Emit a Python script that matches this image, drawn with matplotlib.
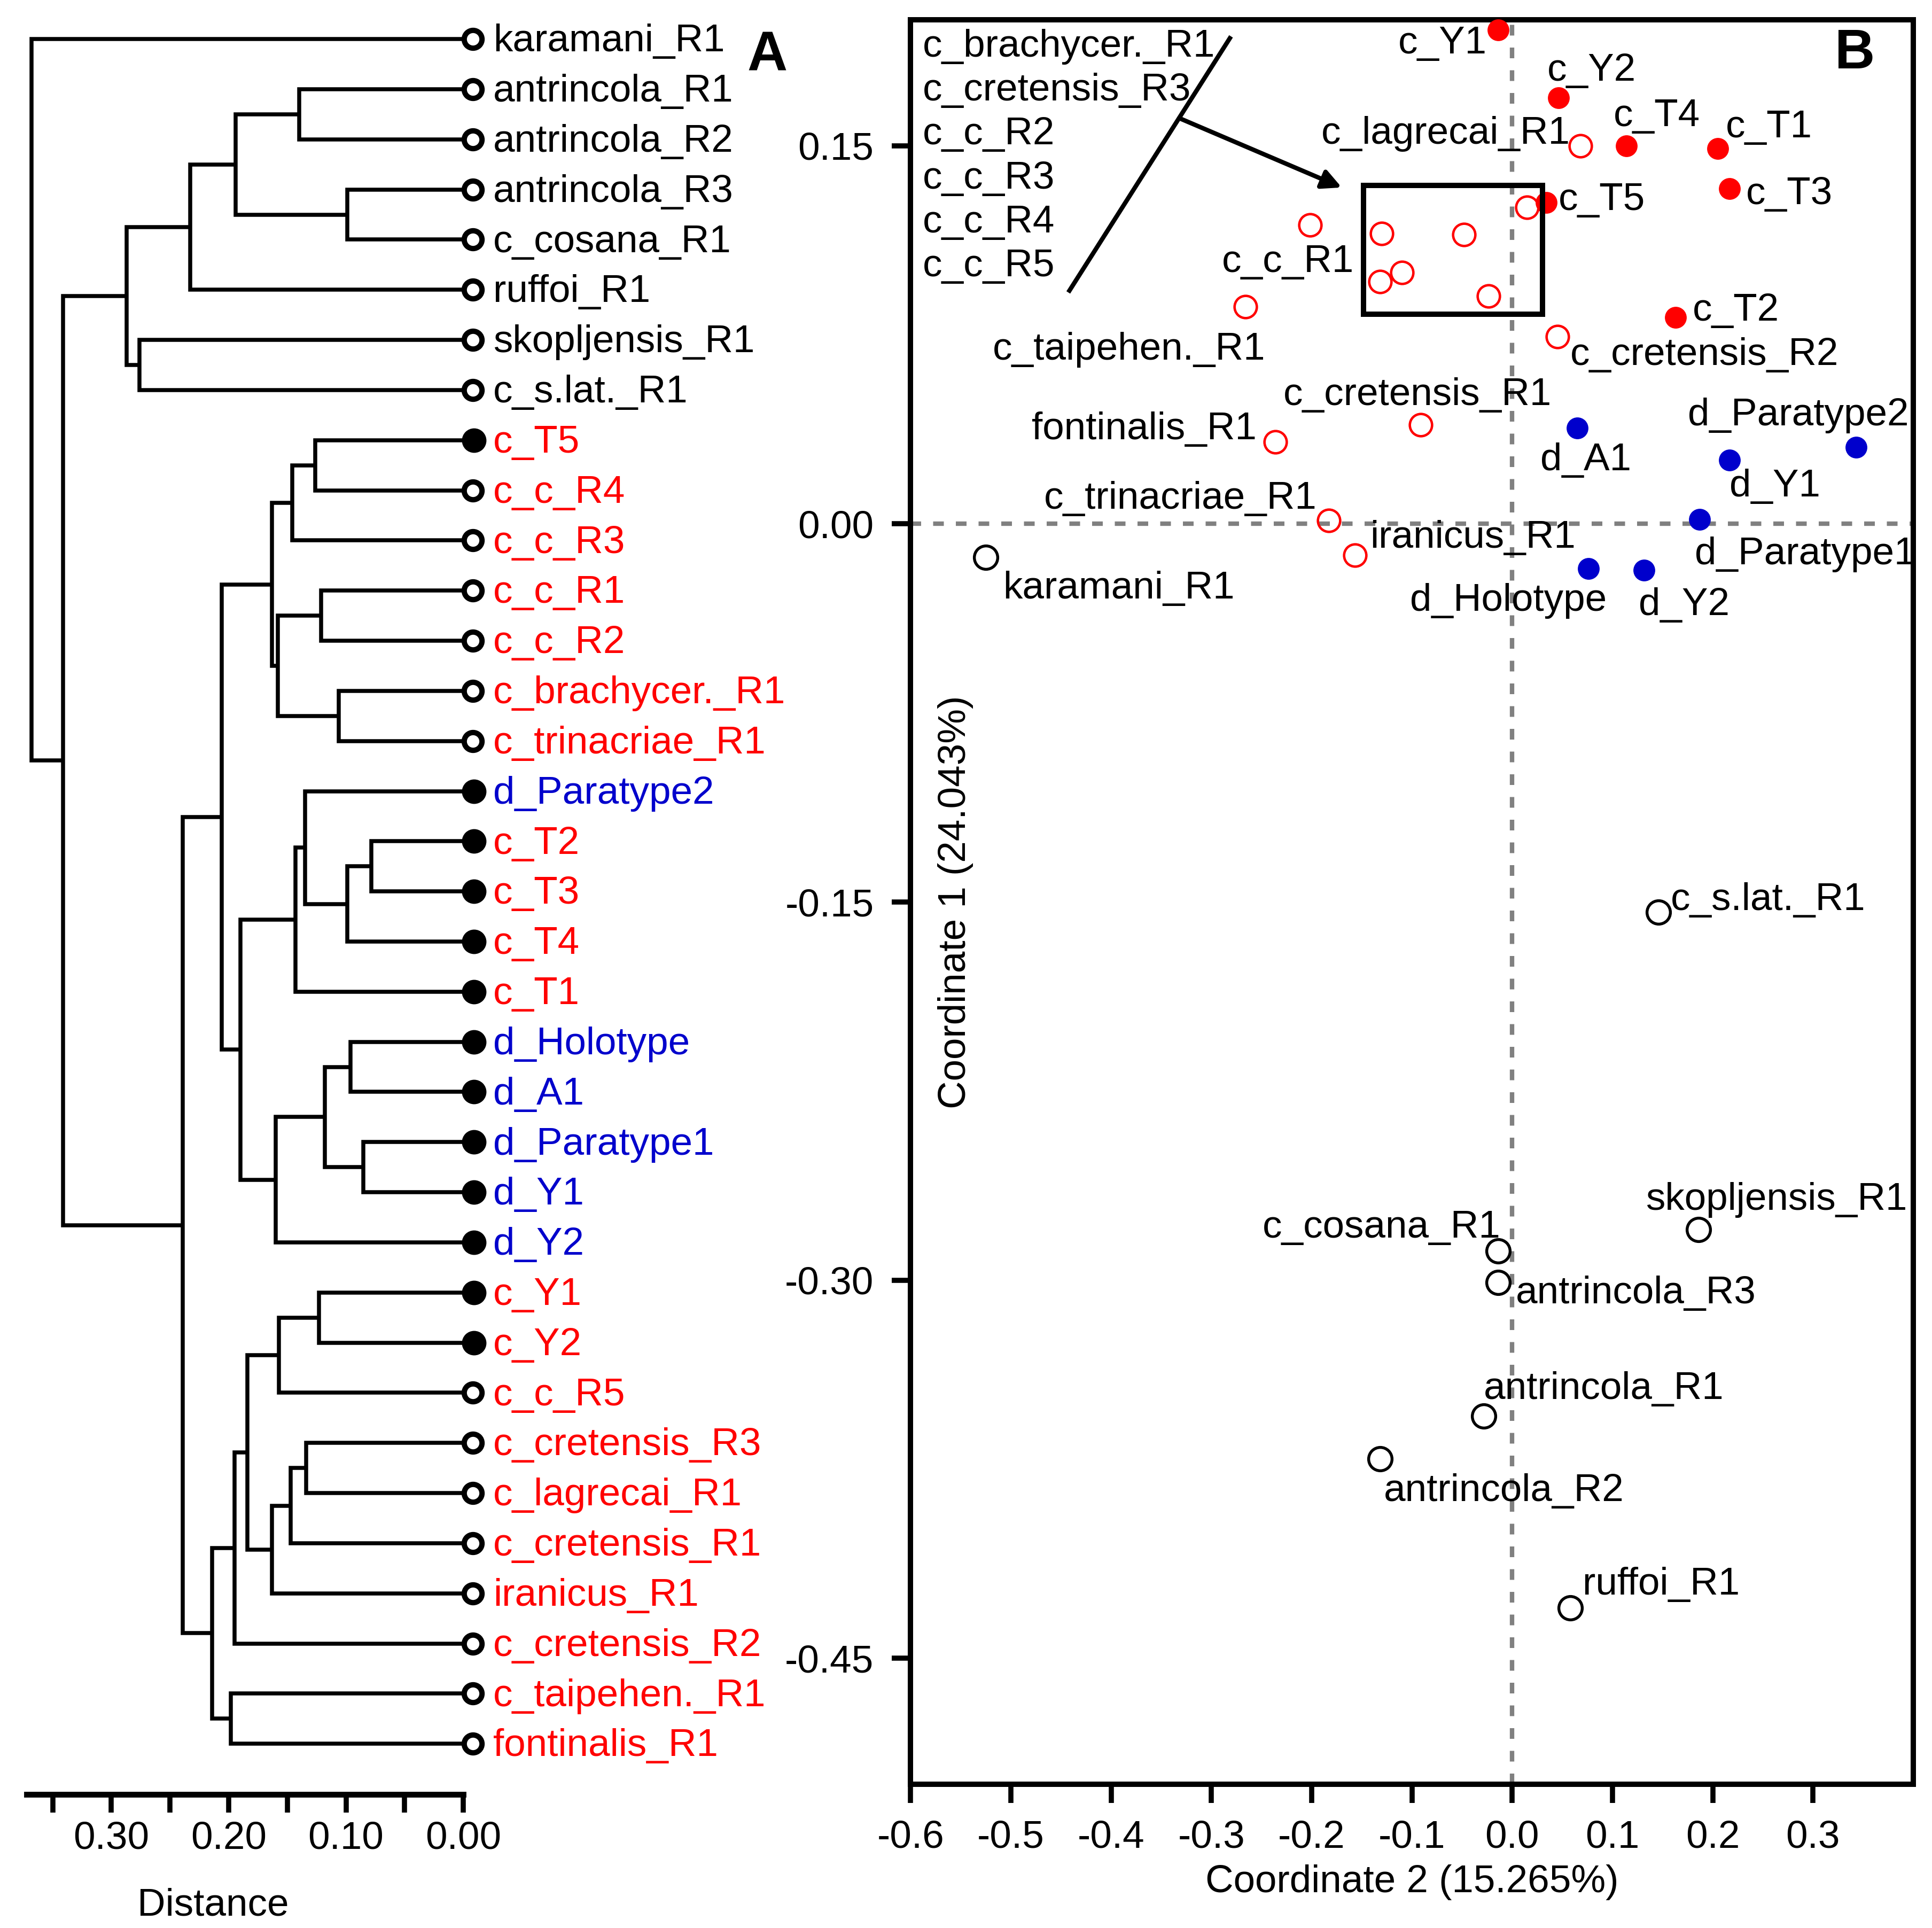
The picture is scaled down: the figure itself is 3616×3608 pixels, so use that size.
import matplotlib
matplotlib.use("Agg")
import matplotlib.pyplot as plt
import matplotlib.ticker as ticker
from matplotlib.patches import Rectangle

plt.rcParams['font.family'] = ['Liberation Sans', 'DejaVu Sans']
plt.rcParams['font.size'] = 17.5

RED = '#ff0000'
BLUE = '#0000cc'

# ---------------- panel A: dendrogram ----------------
leaves = ['karamani_R1', 'antrincola_R1', 'antrincola_R2', 'antrincola_R3', 'c_cosana_R1',
          'ruffoi_R1', 'skopljensis_R1', 'c_s.lat._R1', 'c_T5', 'c_c_R4', 'c_c_R3', 'c_c_R1',
          'c_c_R2', 'c_brachycer._R1', 'c_trinacriae_R1', 'd_Paratype2', 'c_T2', 'c_T3', 'c_T4',
          'c_T1', 'd_Holotype', 'd_A1', 'd_Paratype1', 'd_Y1', 'd_Y2', 'c_Y1', 'c_Y2', 'c_c_R5',
          'c_cretensis_R3', 'c_lagrecai_R1', 'c_cretensis_R1', 'iranicus_R1', 'c_cretensis_R2',
          'c_taipehen._R1', 'fontinalis_R1']
leaf_colors = ['k'] * 8 + ['r'] * 7 + ['b', 'r', 'r', 'r', 'r', 'b', 'b', 'b', 'b', 'b'] + ['r'] * 10
leaf_filled = [0] * 8 + [1, 0, 0, 0, 0, 0, 0, 1, 1, 1, 1, 1, 1, 1, 1, 1, 1, 1, 1] + [0] * 8

# merges: (left, right, distance); ints >= 100 refer to earlier merges (100 + index)
merges = [
    ('antrincola_R1', 'antrincola_R2', 0.140),   # 100
    ('antrincola_R3', 'c_cosana_R1', 0.099),     # 101
    (100, 101, 0.194),                           # 102
    (102, 'ruffoi_R1', 0.233),                   # 103
    ('skopljensis_R1', 'c_s.lat._R1', 0.276),    # 104
    (103, 104, 0.287),                           # 105
    ('c_T5', 'c_c_R4', 0.126),                   # 106
    (106, 'c_c_R3', 0.146),                      # 107
    ('c_c_R1', 'c_c_R2', 0.121),                 # 108
    ('c_brachycer._R1', 'c_trinacriae_R1', 0.106),  # 109
    (108, 109, 0.158),                           # 110
    (107, 110, 0.163),                           # 111
    ('c_T2', 'c_T3', 0.0785),                    # 112
    (112, 'c_T4', 0.099),                        # 113
    ('d_Paratype2', 113, 0.135),                 # 114
    (114, 'c_T1', 0.143),                        # 115
    ('d_Holotype', 'd_A1', 0.096),               # 116
    ('d_Paratype1', 'd_Y1', 0.085),              # 117
    (116, 117, 0.118),                           # 118
    (118, 'd_Y2', 0.160),                        # 119
    (115, 119, 0.190),                           # 120
    (111, 120, 0.206),                           # 121
    ('c_Y1', 'c_Y2', 0.123),                     # 122
    (122, 'c_c_R5', 0.157),                      # 123
    ('c_cretensis_R3', 'c_lagrecai_R1', 0.134),  # 124
    (124, 'c_cretensis_R1', 0.147),              # 125
    (125, 'iranicus_R1', 0.163),                 # 126
    (123, 126, 0.184),                           # 127
    (127, 'c_cretensis_R2', 0.195),              # 128
    ('c_taipehen._R1', 'fontinalis_R1', 0.198),  # 129
    (128, 129, 0.214),                           # 130
    (121, 130, 0.239),                           # 131
    (105, 131, 0.341),                           # 132
    ('karamani_R1', 132, 0.368),                 # 133
]

# ---------------- panel B: PCoA ----------------
pts_name = ['c_Y1', 'c_Y2', 'c_T4', 'c_T1', 'c_T3', 'c_T5', 'c_T2',
            'd_A1', 'd_Paratype2', 'd_Y1', 'd_Paratype1', 'd_Holotype', 'd_Y2',
            'c_lagrecai_R1', 'c_c_R1', 'c_taipehen._R1', 'c_cretensis_R2', 'c_cretensis_R1',
            'fontinalis_R1', 'c_trinacriae_R1', 'iranicus_R1',
            'c_brachycer._R1', 'c_cretensis_R3', 'c_c_R2', 'c_c_R3', 'c_c_R4', 'c_c_R5',
            'karamani_R1', 'c_s.lat._R1', 'skopljensis_R1', 'c_cosana_R1', 'antrincola_R3',
            'antrincola_R1', 'antrincola_R2', 'ruffoi_R1']
coord2 = [-0.014, 0.046, 0.114, 0.205, 0.217, 0.034, 0.163,
          0.065, 0.343, 0.217, 0.187, 0.076, 0.1315,
          0.068, -0.2015, -0.266, 0.045, -0.091,
          -0.236, -0.183, -0.157,
          0.015, -0.130, -0.048, -0.1316, -0.1099, -0.0238,
          -0.525, 0.146, 0.186, -0.014, -0.014,
          -0.0285, -0.1317, 0.058]
coord1 = [0.196, 0.169, 0.150, 0.149, 0.133, 0.1275, 0.082,
          0.038, 0.0305, 0.0254, 0.0017, -0.0178, -0.0184,
          0.150, 0.1187, 0.0861, 0.0743, 0.0394,
          0.0326, 0.0014, -0.0124,
          0.1257, 0.1153, 0.1147, 0.0962, 0.0998, 0.0905,
          -0.0132, -0.154, -0.280, -0.2885, -0.301,
          -0.354, -0.371, -0.430]
pts_group = ['rf'] * 7 + ['bf'] * 6 + ['ro'] * 14 + ['ko'] * 8

# label anchor (x, y, horizontal alignment); box members are listed in the corner
lab_pos = {
    'c_Y1': (-0.025, 0.1918, 'right'), 'c_Y2': (0.035, 0.181, 'left'),
    'c_lagrecai_R1': (0.058, 0.156, 'right'), 'c_T4': (0.101, 0.163, 'left'),
    'c_T1': (0.213, 0.1586, 'left'), 'c_T3': (0.233, 0.132, 'left'),
    'c_T5': (0.046, 0.1297, 'left'), 'c_c_R1': (-0.158, 0.105, 'right'),
    'c_taipehen._R1': (-0.518, 0.0703, 'left'), 'c_T2': (0.180, 0.0857, 'left'),
    'c_cretensis_R2': (0.058, 0.0683, 'left'), 'c_cretensis_R1': (-0.228, 0.0524, 'left'),
    'fontinalis_R1': (-0.255, 0.0387, 'right'), 'd_A1': (0.028, 0.0265, 'left'),
    'd_Paratype2': (0.175, 0.0443, 'left'), 'd_Y1': (0.217, 0.016, 'left'),
    'c_trinacriae_R1': (-0.195, 0.0111, 'right'), 'iranicus_R1': (-0.142, -0.0043, 'left'),
    'd_Paratype1': (0.182, -0.0108, 'left'), 'karamani_R1': (-0.508, -0.0245, 'left'),
    'd_Holotype': (-0.1017, -0.0294, 'left'), 'd_Y2': (0.126, -0.031, 'left'),
    'c_s.lat._R1': (0.158, -0.148, 'left'), 'skopljensis_R1': (0.133, -0.267, 'left'),
    'c_cosana_R1': (-0.0117, -0.278, 'right'), 'antrincola_R3': (0.0037, -0.304, 'left'),
    'antrincola_R1': (-0.0285, -0.342, 'left'), 'antrincola_R2': (-0.128, -0.3826, 'left'),
    'ruffoi_R1': (0.0703, -0.4197, 'left'),
}
box_list = ['c_brachycer._R1', 'c_cretensis_R3', 'c_c_R2', 'c_c_R3', 'c_c_R4', 'c_c_R5']

fig = plt.figure(figsize=(3616 / 300, 3608 / 300), dpi=300)

# ======== A ========
axA = fig.add_axes([0.003, 0.0693, 0.2368, 0.9307])
axA.set_xlim(0.39, 0.0)
axA.set_ylim(35.01, -0.78)

ypos = {name: i for i, name in enumerate(leaves)}
xpos = {name: 0.0 for name in leaves}
for k, (a, b, h) in enumerate(merges):
    ya, yb = ypos[a], ypos[b]
    xa, xb = xpos[a], xpos[b]
    axA.plot([xa, h, h, xb], [ya, ya, yb, yb], color='k', lw=1.8,
             solid_joinstyle='miter', solid_capstyle='butt')
    ypos[100 + k] = (ya + yb) / 2
    xpos[100 + k] = h

cmap = {'k': 'black', 'r': RED, 'b': BLUE}
for i, name in enumerate(leaves):
    if leaf_filled[i]:
        axA.plot(-0.009, i, 'o', ms=10, mfc='k', mec='k', clip_on=False, zorder=5)
    else:
        axA.plot(-0.008, i, 'o', ms=8, mfc='white', mec='k', mew=2.4, clip_on=False, zorder=5)
    axA.text(-0.0255, i + 0.05, name, color=cmap[leaf_colors[i]], ha='left', va='center',
             fontsize=17.5, clip_on=False)

for s in ['top', 'right', 'left']:
    axA.spines[s].set_visible(False)
axA.spines['bottom'].set_linewidth(2.6)
axA.spines['bottom'].set_bounds(0.0, 0.372)
axA.yaxis.set_visible(False)
axA.xaxis.set_major_locator(ticker.FixedLocator([0.0, 0.05, 0.10, 0.15, 0.20, 0.25, 0.30, 0.35]))
axA.xaxis.set_major_formatter(ticker.FuncFormatter(
    lambda v, p: '%.2f' % v if abs(round(v * 100) % 10) < 1e-6 else ''))
axA.tick_params(axis='x', direction='out', length=8.2, width=2.3, pad=3.6, labelsize=17.5)
axA.text(0.453, -0.062, 'Distance', transform=axA.transAxes, ha='center', va='center',
         fontsize=17.5)

fig.text(0.397, 0.971, 'A', fontsize=25, fontweight='bold', ha='center', va='center')

# ======== B ========
axB = fig.add_axes([0.4713, 0.0746, 0.519, 0.9151])
axB.set_xlim(-0.6, 0.4)
axB.set_ylim(-0.5, 0.2)

axB.axhline(0, color='#808080', lw=2.0, ls=(0, (2.4, 2.7)), zorder=1)
axB.axvline(0, color='#808080', lw=2.0, ls=(0, (2.4, 2.7)), zorder=1)

for n, x, y, g in zip(pts_name, coord2, coord1, pts_group):
    if g == 'rf':
        axB.plot(x, y, 'o', ms=9.8, mfc=RED, mec=RED, mew=0, zorder=4, clip_on=False)
    elif g == 'bf':
        axB.plot(x, y, 'o', ms=9.8, mfc=BLUE, mec=BLUE, mew=0, zorder=4)
    elif g == 'ro':
        axB.plot(x, y, 'o', ms=10, mfc='none', mec=RED, mew=1.1, zorder=4)
    else:
        axB.plot(x, y, 'o', ms=10.5, mfc='none', mec='k', mew=1.3, zorder=4)
    if n in lab_pos:
        lx, ly, ha = lab_pos[n]
        axB.text(lx, ly - 0.0012, n, ha=ha, va='center', fontsize=17.5, zorder=3)

for i, n in enumerate(box_list):
    axB.text(-0.588, 0.1893 - i * 0.01742, n, ha='left', va='center', fontsize=17.5)

axB.add_patch(Rectangle((-0.148, 0.0832), 0.178, 0.0511, fill=False, lw=2.4, ec='k', zorder=5))
axB.plot([-0.2816, -0.4415], [0.1927, 0.0926], color='k', lw=2.0)
axB.annotate('', xy=(-0.170, 0.1335), xytext=(-0.332, 0.161),
             arrowprops=dict(arrowstyle='-|>', lw=2.0, color='k', mutation_scale=18,
                             shrinkA=0, shrinkB=0))

for s in axB.spines.values():
    s.set_linewidth(2.4)
axB.xaxis.set_major_locator(ticker.FixedLocator([-0.6, -0.5, -0.4, -0.3, -0.2, -0.1, 0.0, 0.1, 0.2, 0.3]))
axB.xaxis.set_major_formatter(ticker.FormatStrFormatter('%.1f'))
axB.yaxis.set_major_locator(ticker.FixedLocator([0.15, 0.0, -0.15, -0.30, -0.45]))
axB.yaxis.set_major_formatter(ticker.FormatStrFormatter('%.2f'))
axB.tick_params(axis='both', direction='out', length=8.5, width=2.3, labelsize=17.5)
axB.tick_params(axis='x', pad=7.5)
axB.tick_params(axis='y', pad=8)

axB.text(-0.555, -0.150, 'Coordinate 1 (24.043%)', rotation=90, ha='center', va='center',
         fontsize=17.5)
axB.text(0.5, -0.0555, 'Coordinate 2 (15.265%)', transform=axB.transAxes, ha='center',
         va='center', fontsize=17.5)

fig.text(0.960, 0.972, 'B', fontsize=25, fontweight='bold', ha='center', va='center')

fig.savefig('out.png', dpi=300)
